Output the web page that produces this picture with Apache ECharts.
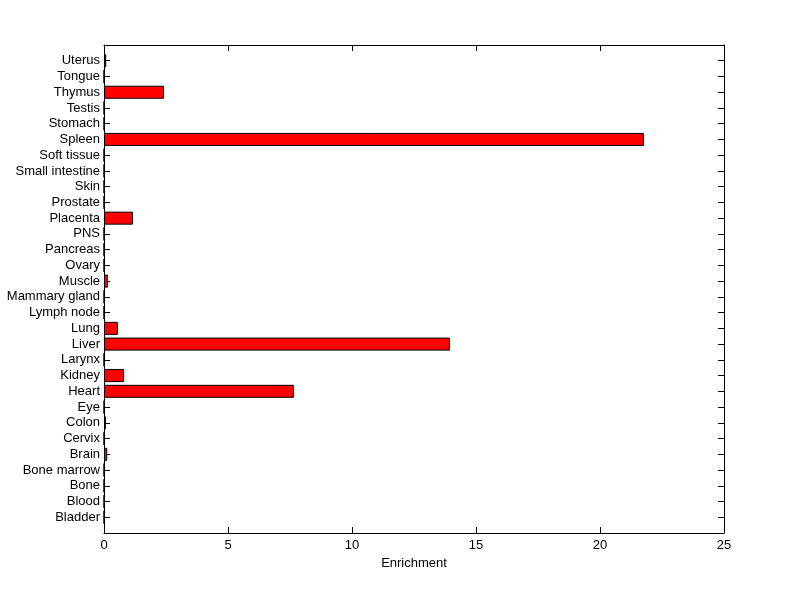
<!DOCTYPE html>
<html><head><meta charset="utf-8">
<script src="https://cdn.jsdelivr.net/npm/echarts@6/dist/echarts.min.js"></script>
<style>html,body{margin:0;padding:0;background:#fff}#c{width:800px;height:599px}</style>
</head><body><div id="c"></div>
<script>
const categories = ["Bladder","Blood","Bone","Bone marrow","Brain","Cervix","Colon","Eye","Heart","Kidney","Larynx","Liver","Lung","Lymph node","Mammary gland","Muscle","Ovary","Pancreas","PNS","Placenta","Prostate","Skin","Small intestine","Soft tissue","Spleen","Stomach","Testis","Thymus","Tongue","Uterus"];
const enrichment = [0,0,0,0,0.13,0,0.08,0,7.66,0.81,0,13.95,0.56,0,0,0.16,0,0,0,1.17,0,0,0,0,21.77,0,0,2.42,0,0.09];
const xTicks = [0,5,10,15,20,25];

// pad one empty slot at each end so the axis runs from 0 to 31 like the original
const yCats = [''].concat(categories, ['']);
const yData = [null].concat(enrichment, [null]);

const font = "'Liberation Sans', Arial, sans-serif";
const chart = echarts.init(document.getElementById('c'), null, {renderer:'canvas'});
const axisLine = {show:true, onZero:false, lineStyle:{color:'#000', width:1}};
chart.setOption({
  animation:false,
  grid:{left:104, right:76, top:45, bottom:66, containLabel:false},
  xAxis:[{
    type:'value', min:xTicks[0], max:xTicks[xTicks.length-1], interval:5, position:'bottom',
    axisLine:axisLine, axisTick:{show:true, inside:true, length:6, lineStyle:{color:'#000'}},
    splitLine:{show:false},
    axisLabel:{color:'#000', fontFamily:font, fontSize:13, margin:6},
    name:'Enrichment', nameLocation:'middle', nameGap:23,
    nameTextStyle:{color:'#000', fontFamily:font, fontSize:13}
  },{
    type:'value', position:'top', min:xTicks[0], max:xTicks[xTicks.length-1], interval:5,
    axisLine:axisLine, axisTick:{show:true, inside:true, length:6, lineStyle:{color:'#000'}},
    splitLine:{show:false}, axisLabel:{show:false}
  }],
  yAxis:[{
    type:'category', data:yCats, boundaryGap:false, position:'left',
    axisLine:axisLine, axisTick:{show:true, inside:true, length:6, interval:0, lineStyle:{color:'#000'}},
    axisLabel:{color:'#000', fontFamily:font, fontSize:13, margin:4, interval:0},
    splitLine:{show:false}
  },{
    type:'category', data:yCats, boundaryGap:false, position:'right',
    axisLine:axisLine, axisTick:{show:true, inside:true, length:6, interval:0, lineStyle:{color:'#000'}},
    axisLabel:{show:false}, splitLine:{show:false}
  }],
  series:[{
    type:'bar', data:yData, xAxisIndex:0, yAxisIndex:0,
    barWidth:13,
    itemStyle:{color:'#ff0000', borderColor:'#000', borderWidth:1}
  }]
});
</script></body></html>
